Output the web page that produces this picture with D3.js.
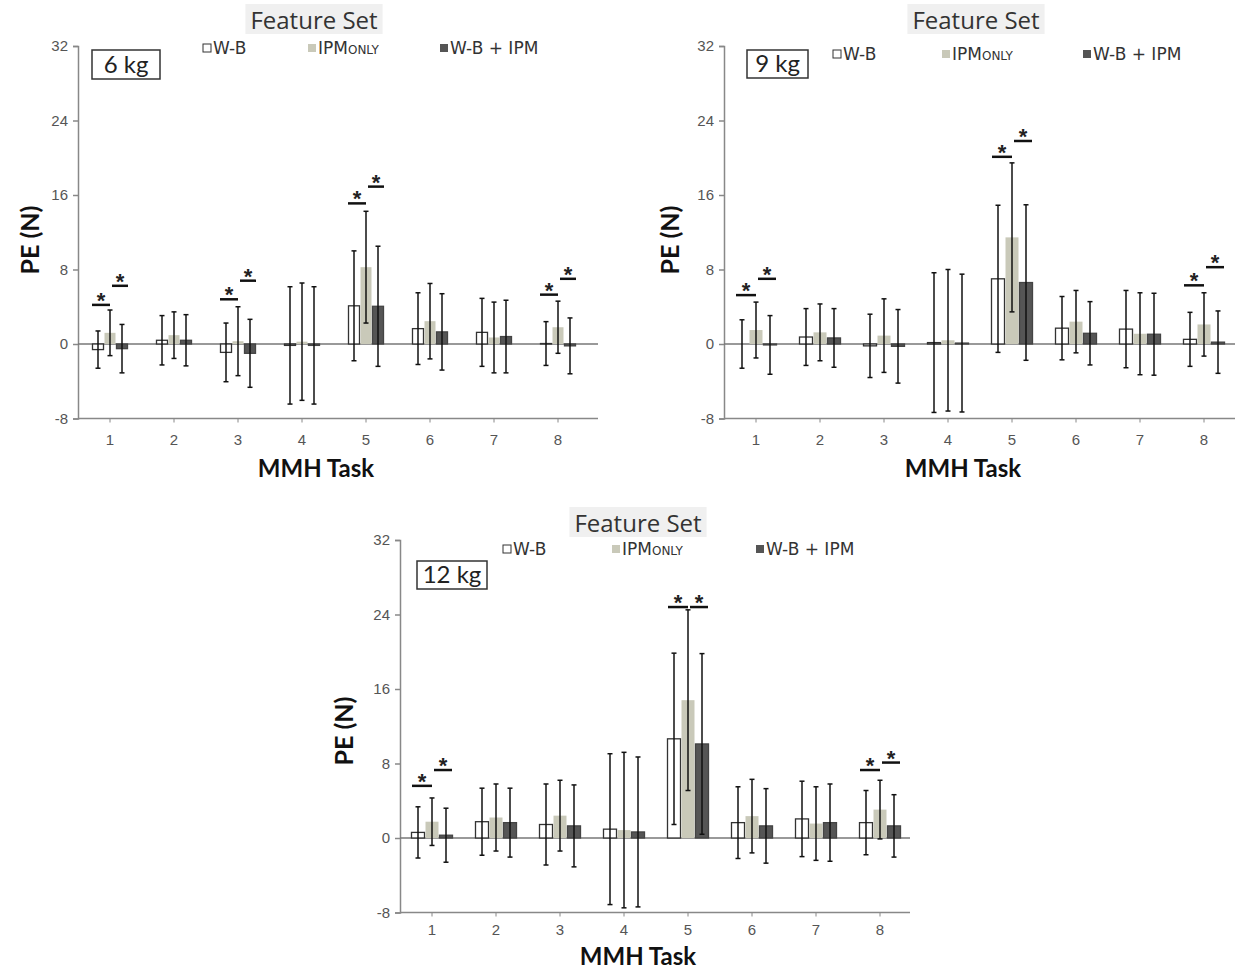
<!DOCTYPE html>
<html>
<head>
<meta charset="utf-8">
<script src="https://cdn.jsdelivr.net/npm/d3@7/dist/d3.min.js"></script>
<style>
  body { margin: 0; background: #fff; }
  svg { display: block; }
  .tick text { font-family: "Liberation Sans", Arial, sans-serif; font-size: 15px; fill: #555; }
</style>
</head>
<body>
<div class="chart"></div>
<script>
// categories and series
var tasks = ["1", "2", "3", "4", "5", "6", "7", "8"];
var seriesNames = ["W-B", "IPM", "W-B + IPM"];
var yTicks = [-8, 0, 8, 16, 24, 32];

// 6 kg: mean PE and error bar (N)
var wb6 = [-0.6, 0.4, -0.9, -0.15, 4.1, 1.65, 1.25, 0.05];
var wb6Err = [2.0, 2.65, 3.15, 6.3, 5.9, 3.85, 3.65, 2.35];
var ipm6 = [1.2, 0.95, 0.3, 0.25, 8.25, 2.45, 0.7, 1.8];
var ipm6Err = [2.45, 2.5, 3.7, 6.3, 6.0, 4.05, 3.8, 2.8];
var both6 = [-0.5, 0.4, -1.0, -0.15, 4.05, 1.3, 0.8, -0.2];
var both6Err = [2.6, 2.75, 3.65, 6.3, 6.45, 4.1, 3.9, 3.0];

// 9 kg
var wb9 = [0, 0.75, -0.2, 0.15, 7.0, 1.7, 1.6, 0.5];
var wb9Err = [2.6, 3.05, 3.4, 7.5, 7.9, 3.4, 4.15, 2.9];
var ipm9 = [1.5, 1.25, 0.9, 0.4, 11.45, 2.4, 1.1, 2.1];
var ipm9Err = [3.0, 3.05, 3.95, 7.6, 8.0, 3.35, 4.4, 3.4];
var both9 = [-0.1, 0.65, -0.25, 0.1, 6.6, 1.15, 1.05, 0.2];
var both9Err = [3.15, 3.15, 3.95, 7.4, 8.35, 3.4, 4.4, 3.35];

// 12 kg
var wb12 = [0.6, 1.75, 1.45, 0.95, 10.65, 1.65, 2.05, 1.65];
var wb12Err = [2.75, 3.6, 4.35, 8.1, 9.2, 3.85, 4.05, 3.45];
var ipm12 = [1.75, 2.2, 2.4, 0.85, 14.8, 2.35, 1.55, 3.05];
var ipm12Err = [2.55, 3.6, 3.8, 8.35, 9.7, 3.95, 3.95, 3.15];
var both12 = [0.3, 1.65, 1.3, 0.65, 10.1, 1.3, 1.65, 1.3];
var both12Err = [2.9, 3.7, 4.4, 8.05, 9.7, 4.0, 4.15, 3.35];

// significance markers: task, pair (0 = W-B vs IPM, 1 = IPM vs W-B+IPM), height
var sig6Task = ["1", "1", "3", "3", "5", "5", "8", "8"];
var sig6Pair = [0, 1, 0, 1, 0, 1, 0, 1];
var sig6Level = [4.2, 6.25, 4.8, 6.8, 15.1, 16.9, 5.3, 7.0];
var sig9Task = ["1", "1", "5", "5", "8", "8"];
var sig9Pair = [0, 1, 0, 1, 0, 1];
var sig9Level = [5.25, 7.0, 20.1, 21.8, 6.3, 8.25];
var sig12Task = ["1", "1", "5", "5", "8", "8"];
var sig12Pair = [0, 1, 0, 1, 0, 1];
var sig12Level = [5.6, 7.3, 24.8, 24.8, 7.3, 8.1];

var colors = ["#ffffff", "#c9c9b9", "#555555"];
var strokes = ["#333333", "none", "#444444"];

var panels = [
  {load: "6 kg", left: 78, top: 46, bottom: 418.5, axisEnd: 598, step: 12, tickPad: 12,
   means: [wb6, ipm6, both6], errs: [wb6Err, ipm6Err, both6Err],
   sigTask: sig6Task, sigPair: sig6Pair, sigLevel: sig6Level,
   titleX: 314, titleY: 29, legendY: 49, legendX: [203, 308, 440],
   box: [92, 50, 68, 29], yLabel: [30, 240], xLabel: [316, 477]},
  {load: "9 kg", left: 724, top: 46, bottom: 418.5, axisEnd: 1235, step: 14, tickPad: 12,
   means: [wb9, ipm9, both9], errs: [wb9Err, ipm9Err, both9Err],
   sigTask: sig9Task, sigPair: sig9Pair, sigLevel: sig9Level,
   titleX: 976, titleY: 29, legendY: 55, legendX: [833, 942, 1083],
   box: [747, 50, 61, 28], yLabel: [670, 240], xLabel: [963, 477]},
  {load: "12 kg", left: 400, top: 540, bottom: 912.5, axisEnd: 910, step: 14, tickPad: 8,
   means: [wb12, ipm12, both12], errs: [wb12Err, ipm12Err, both12Err],
   sigTask: sig12Task, sigPair: sig12Pair, sigLevel: sig12Level,
   titleX: 638, titleY: 532, legendY: 550, legendX: [503, 612, 756],
   box: [417, 561, 70, 28], yLabel: [344, 731], xLabel: [638, 965]}
];

var svg = d3.select(".chart").append("svg")
    .attr("width", 1235)
    .attr("height", 970);

panels.forEach(drawPanel);

function drawPanel(p) {
  var g = svg.append("g");

  var x = d3.scaleBand()
    .domain(tasks)
    .range([p.left, p.left + 8 * 64]);

  var y = d3.scaleLinear()
    .domain([-8, 32])
    .range([p.bottom, p.top]);

  // title with its grey box
  var title = g.append("text")
    .attr("x", p.titleX)
    .attr("y", p.titleY)
    .attr("text-anchor", "middle")
    .style("font-family", "'Open Sans', sans-serif")
    .style("font-size", "24px")
    .style("fill", "#333")
    .text("Feature Set");
  var bb = title.node().getBBox();
  g.insert("rect", "text")
    .attr("x", bb.x - 5)
    .attr("y", bb.y + 1)
    .attr("width", bb.width + 10)
    .attr("height", bb.height - 3)
    .attr("fill", "#f0f0f0");

  // y axis
  var gY = g.append("g")
    .attr("transform", "translate(" + p.left + ",0)")
    .call(d3.axisLeft(y).tickValues(yTicks).tickSize(5).tickPadding(5)
      .tickFormat(function(d) { return String(d); }));
  gY.select(".domain").attr("stroke", "#888").attr("stroke-width", 1.5);
  gY.selectAll(".tick line").attr("stroke", "#888").attr("stroke-width", 1.5);

  // x axis
  var gX = g.append("g")
    .attr("transform", "translate(0," + p.bottom + ")")
    .call(d3.axisBottom(x).tickSize(4).tickPadding(p.tickPad));
  gX.select(".domain").remove();
  gX.selectAll(".tick line").attr("stroke", "#888");
  g.append("line")
    .attr("x1", p.left).attr("x2", p.axisEnd)
    .attr("y1", p.bottom).attr("y2", p.bottom)
    .attr("stroke", "#888").attr("stroke-width", 1.5);

  // zero line
  g.append("line")
    .attr("x1", p.left).attr("x2", p.axisEnd)
    .attr("y1", y(0)).attr("y2", y(0))
    .attr("stroke", "#777").attr("stroke-width", 1.5);

  function cx(task, s) {
    return x(task) + x.bandwidth() / 2 + (s - 1) * p.step;
  }

  // bars
  seriesNames.forEach(function(name, s) {
    var rows = tasks.map(function(t, i) {
      return {task: t, v: p.means[s][i], e: p.errs[s][i]};
    });

    g.selectAll(".bar" + s)
      .data(rows)
      .enter().append("rect")
        .attr("x", function(d) { return cx(d.task, s) - p.step / 2 + 0.5; })
        .attr("y", function(d) { return y(Math.max(0, d.v)); })
        .attr("width", p.step - 1)
        .attr("height", function(d) { return Math.abs(y(d.v) - y(0)); })
        .attr("fill", colors[s])
        .attr("stroke", strokes[s])
        .attr("stroke-width", 1.3);
  });

  // error bars on top of all bars
  seriesNames.forEach(function(name, s) {
    var rows = tasks.map(function(t, i) {
      return {task: t, v: p.means[s][i], e: p.errs[s][i]};
    });
    var eb = g.selectAll(".err" + s)
      .data(rows)
      .enter().append("g");
    eb.append("line")
      .attr("x1", function(d) { return cx(d.task, s); })
      .attr("x2", function(d) { return cx(d.task, s); })
      .attr("y1", function(d) { return y(d.v + d.e); })
      .attr("y2", function(d) { return y(d.v - d.e); })
      .attr("stroke", "#111").attr("stroke-width", 1.5);
    [1, -1].forEach(function(sign) {
      eb.append("line")
        .attr("x1", function(d) { return cx(d.task, s) - 2.5; })
        .attr("x2", function(d) { return cx(d.task, s) + 2.5; })
        .attr("y1", function(d) { return y(d.v + sign * d.e); })
        .attr("y2", function(d) { return y(d.v + sign * d.e); })
        .attr("stroke", "#111").attr("stroke-width", 1.5);
    });
  });

  // significance lines and stars
  var sig = p.sigTask.map(function(t, i) {
    return {task: t, pair: p.sigPair[i], level: p.sigLevel[i]};
  });
  var sg = g.selectAll(".sig")
    .data(sig)
    .enter().append("g");
  function sx1(d) { return d.pair === 0 ? cx(d.task, 0) - 6 : cx(d.task, 1) + 2; }
  function sx2(d) { return d.pair === 0 ? cx(d.task, 1) : cx(d.task, 2) + 6; }
  sg.append("line")
    .attr("x1", sx1)
    .attr("x2", sx2)
    .attr("y1", function(d) { return y(d.level); })
    .attr("y2", function(d) { return y(d.level); })
    .attr("stroke", "#111").attr("stroke-width", 2.5);
  sg.append("text")
    .attr("x", function(d) { return (sx1(d) + sx2(d)) / 2; })
    .attr("y", function(d) { return y(d.level) + 3; })
    .attr("text-anchor", "middle")
    .style("font-family", "'Liberation Sans', Arial, sans-serif")
    .style("font-weight", "bold")
    .style("font-size", "22px")
    .style("fill", "#222")
    .text("*");

  // legend
  seriesNames.forEach(function(name, s) {
    var lx = p.legendX[s];
    g.append("rect")
      .attr("x", lx).attr("y", p.legendY - 5)
      .attr("width", 8).attr("height", 8)
      .attr("fill", colors[s])
      .attr("stroke", s === 0 ? "#333" : "none")
      .attr("stroke-width", 1);
    var t = g.append("text")
      .attr("x", lx + 10)
      .attr("y", p.legendY + 5)
      .style("font-family", "'DejaVu Sans', sans-serif")
      .style("font-size", "17px")
      .style("fill", "#333")
      .text(name);
    if (s === 1) {
      t.append("tspan").style("font-size", "12px").text("ONLY");
    }
  });

  // load box
  g.append("rect")
    .attr("x", p.box[0]).attr("y", p.box[1])
    .attr("width", p.box[2]).attr("height", p.box[3])
    .attr("fill", "#fff").attr("stroke", "#333").attr("stroke-width", 1.5);
  g.append("text")
    .attr("x", p.box[0] + p.box[2] / 2)
    .attr("y", p.box[1] + p.box[3] - 6)
    .attr("text-anchor", "middle")
    .style("font-family", "Lato, sans-serif")
    .style("font-size", "24px")
    .style("fill", "#222")
    .text(p.load);

  // axis titles
  g.append("text")
    .attr("transform", "translate(" + p.yLabel[0] + "," + p.yLabel[1] + ") rotate(-90)")
    .attr("text-anchor", "middle")
    .attr("dy", "0.35em")
    .style("font-family", "Lato, sans-serif")
    .style("font-weight", "bold")
    .style("font-size", "25px")
    .style("fill", "#111")
    .text("PE (N)");
  g.append("text")
    .attr("x", p.xLabel[0])
    .attr("y", p.xLabel[1])
    .attr("text-anchor", "middle")
    .style("font-family", "Lato, sans-serif")
    .style("font-weight", "bold")
    .style("font-size", "24px")
    .style("fill", "#111")
    .text("MMH Task");
}
</script>
</body>
</html>
